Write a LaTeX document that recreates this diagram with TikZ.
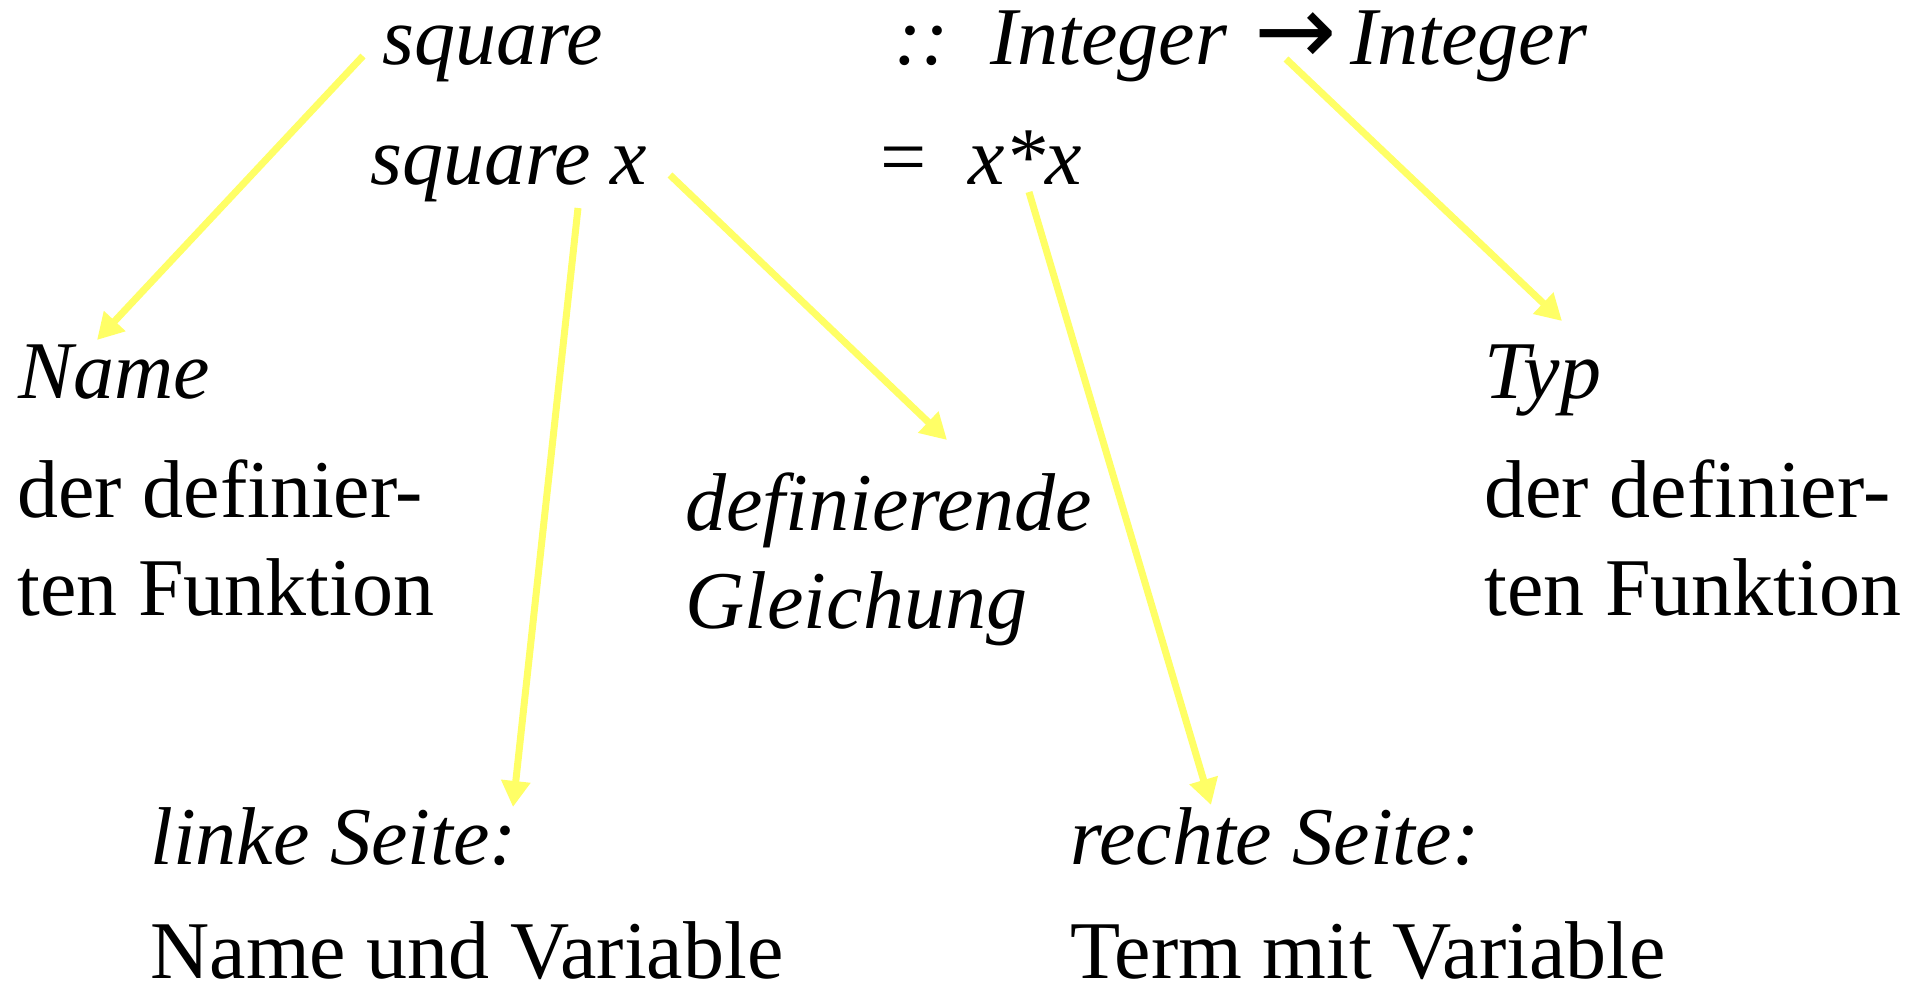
\documentclass[tikz,border=0pt]{standalone}
\usepackage{fontspec}
\setmainfont{Liberation Serif}
\newfontfamily\arrowfont[Scale=1.2]{DejaVu Sans}
\usetikzlibrary{arrows.meta}
\definecolor{marker}{HTML}{FFFF66}
\tikzset{
  base/.style={font=\fontsize{41}{49}\selectfont, inner sep=0pt, anchor=base west, text=black},
  term/.style={base, font=\fontsize{41}{49}\selectfont\itshape},
  plain/.style={base},
  pointer/.style={-{Triangle[length=13pt,width=14pt]}, line width=3.5pt, draw=marker},
}

\begin{document}
\begin{tikzpicture}[x=0.5pt,y=-0.5pt]
  \useasboundingbox[fill=white] (0,0) rectangle (1921,985);

  % the two lines of the definition
  \node[term] (sq) at (382,64) {square};
  \node[term] (colons) at (894,64) {::};
  \node[term] (tyin) at (990,64) {Integer};
  \node[plain] (maps) at (1254,64) {\arrowfont →};
  \node[term] (tyout) at (1350,64) {Integer};
  \node[term] (sqx) at (370,184) {square x};
  \node[plain] (eq) at (880,184) {=};
  \node[term] (rhs) at (968,184) {x*x};

  % explanations
  \node[term] (name) at (18,398) {Name};
  \node[plain] (nameA) at (17,517) {der definier-};
  \node[plain] (nameB) at (17,615) {ten Funktion};
  \node[term] (typ) at (1484,398) {Typ};
  \node[plain] (typA) at (1484,517) {der definier-};
  \node[plain] (typB) at (1484,615) {ten Funktion};
  \node[term] (defeq) at (685,530) {definierende};
  \node[term] (defeqB) at (685,628) {Gleichung};
  \node[term] (lhs) at (150,864) {linke Seite:};
  \node[plain] (lhsB) at (150,978) {Name und Variable};
  \node[term] (rside) at (1070,864) {rechte Seite:};
  \node[plain] (rsideB) at (1070,978) {Term mit Variable};

  \draw[pointer] ([shift={(-19,-8)}]sq.base west) -- ([shift={(79,-58)}]name.base west);
  \draw[pointer] ([shift={(32,-5)}]maps.base west) -- ([shift={(78,-77)}]typ.base west);
  \draw[pointer] ([shift={(300,-9)}]sqx.base west) -- ([shift={(262,-90)}]defeq.base west);
  \draw[pointer] ([shift={(208,24)}]sqx.base west) -- ([shift={(363,-57)}]lhs.base west);
  \draw[pointer] ([shift={(61,8)}]rhs.base west) -- ([shift={(141,-59)}]rside.base west);
\end{tikzpicture}
\end{document}
